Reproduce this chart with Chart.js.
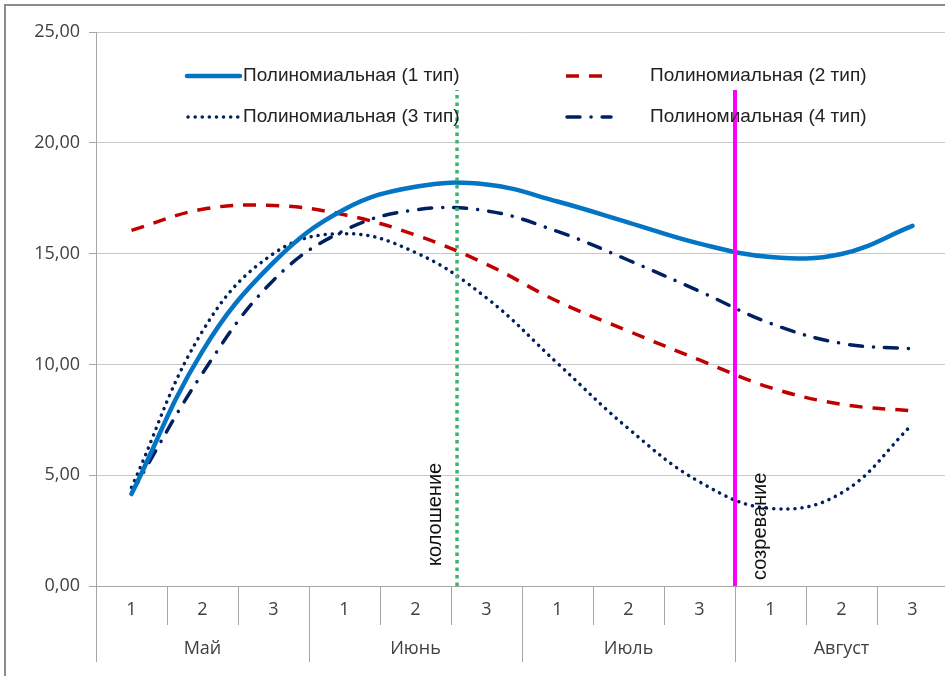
<!DOCTYPE html>
<html>
<head>
<meta charset="utf-8">
<script src="https://cdn.jsdelivr.net/npm/chart.js@4.4.1/dist/chart.umd.min.js"></script>
<style>
html, body { margin: 0; padding: 0; background: #fff; overflow: hidden; }
#wrap { position: absolute; left: 0; top: 0; width: 960px; height: 676px; }
</style>
</head>
<body>
<div id="wrap"><canvas id="chart"></canvas></div>
<script>
// декады и месяцы
var decades = ["1", "2", "3", "1", "2", "3", "1", "2", "3", "1", "2", "3"];
var months = ["Май", "Июнь", "Июль", "Август"];

// значения по декадам
var type1 = [4.15, 10.6, 14.6, 17.0, 18.02, 18.12, 17.35, 16.4, 15.45, 14.85, 14.98, 16.25];
var type2 = [16.05, 17.0, 17.17, 16.75, 15.84, 14.52, 12.85, 11.5, 10.2, 8.95, 8.2, 7.9];
var type3 = [4.45, 11.5, 15.0, 15.9, 15.05, 13.0, 10.05, 7.1, 4.7, 3.5, 4.2, 7.3];
var type4 = [4.2, 9.6, 13.8, 16.05, 16.97, 16.93, 16.0, 14.7, 13.3, 11.85, 10.95, 10.7];
var seriesNames = ["Полиномиальная (1 тип)", "Полиномиальная (2 тип)", "Полиномиальная (3 тип)", "Полиномиальная (4 тип)"];

// фазы развития
var phaseNames = ["колошение", "созревание"];
var phasePos = [4.585, 8.5];
var phaseTop = 22.38;

var yMin = 0, yMax = 25, yStep = 5;

function pts(arr) {
  return arr.map(function (v, i) { return { x: i, y: v }; });
}
function vline(x) {
  return [{ x: x, y: 0 }, { x: x, y: phaseTop }];
}

var axisColor = "#a6a6a6";
var textColor = "#404040";

/*
рамка, подписи оси X, легенда и подписи фаз
*/
var decor = {
  id: "decor",
  beforeDraw: function (chart) {
    var c = chart.ctx;
    c.save();
    c.fillStyle = "#fff";
    c.fillRect(0, 0, chart.width, chart.height);
    c.fillStyle = "#8c8c8c";
    c.fillRect(4, 4, chart.width, 2);
    c.fillRect(4, 4, 2, chart.height);
    c.restore();
  },
  afterDraw: function (chart) {
    var c = chart.ctx, xs = chart.scales.x, area = chart.chartArea;
    c.save();

    // ось X и разделители
    c.strokeStyle = axisColor;
    c.lineWidth = 1;
    c.beginPath();
    c.moveTo(area.left, area.bottom + 0.5);
    c.lineTo(area.right, area.bottom + 0.5);
    for (var i = 0; i <= decades.length; i++) {
      var px = Math.round(xs.getPixelForValue(i - 0.5)) + 0.5;
      c.moveTo(px, area.bottom);
      c.lineTo(px, area.bottom + (i % 3 === 0 ? 76 : 39));
    }
    c.stroke();

    c.fillStyle = textColor;
    c.font = "18px 'Open Sans'";
    c.textAlign = "center";
    c.textBaseline = "middle";
    decades.forEach(function (d, i) {
      c.fillText(d, xs.getPixelForValue(i), area.bottom + 24);
    });
    months.forEach(function (m, i) {
      c.fillText(m, xs.getPixelForValue(i * 3 + 1), area.bottom + 63);
    });

    // легенда
    var slots = [
      { x: 187, y: 76, w: 53, tx: 243 },
      { x: 566, y: 76, w: 38, tx: 650 },
      { x: 188, y: 117, w: 50, tx: 243 },
      { x: 567, y: 117, w: 44, tx: 650 }
    ];
    var k = 0;
    chart.data.datasets.forEach(function (ds) {
      if (!ds.isCurve) return;
      var s = slots[k++];
      c.save();
      c.strokeStyle = ds.borderColor;
      c.lineWidth = ds.borderWidth;
      c.lineCap = ds.borderCapStyle || "butt";
      c.setLineDash(ds.borderDash || []);
      c.beginPath();
      c.moveTo(s.x, s.y);
      c.lineTo(s.x + s.w, s.y);
      c.stroke();
      c.restore();
      c.fillStyle = "#222";
      c.font = "19px 'Liberation Sans'";
      c.textAlign = "left";
      c.textBaseline = "middle";
      c.fillText(ds.label, s.tx, s.y);
    });

    // подписи фаз
    c.font = "20px 'Liberation Sans'";
    c.fillStyle = "#111";
    c.textBaseline = "middle";
    c.textAlign = "left";
    var offs = [{ dx: -22, bottom: 566 }, { dx: 25, bottom: 580 }];
    phaseNames.forEach(function (name, i) {
      var px = xs.getPixelForValue(phasePos[i]);
      c.save();
      c.translate(px + offs[i].dx, offs[i].bottom);
      c.rotate(-Math.PI / 2);
      c.fillText(name, 0, 0);
      c.restore();
    });

    c.restore();
  }
};

var config = {
  type: "line",
  data: {
    datasets: [
      {
        label: phaseNames[0], data: vline(phasePos[0]),
        borderColor: "#3cb371", borderWidth: 3.5, borderDash: [3.5, 4],
        pointRadius: 0, tension: 0
      },
      {
        label: phaseNames[1], data: vline(phasePos[1]),
        borderColor: "#ff00ff", borderWidth: 4,
        pointRadius: 0, tension: 0
      },
      {
        label: seriesNames[0], data: pts(type1), isCurve: true,
        borderColor: "#0474c4", borderWidth: 4.5, borderCapStyle: "round",
        pointRadius: 0, tension: 0.4
      },
      {
        label: seriesNames[1], data: pts(type2), isCurve: true,
        borderColor: "#c00000", borderWidth: 3.5, borderDash: [13, 10],
        pointRadius: 0, tension: 0.4
      },
      {
        label: seriesNames[2], data: pts(type3), isCurve: true,
        borderColor: "#002060", borderWidth: 3.5, borderDash: [0.1, 7], borderCapStyle: "round",
        pointRadius: 0, tension: 0.4
      },
      {
        label: seriesNames[3], data: pts(type4), isCurve: true,
        borderColor: "#002060", borderWidth: 3.5, borderDash: [13, 11, 0.1, 11], borderCapStyle: "round",
        pointRadius: 0, tension: 0.4
      }
    ]
  },
  options: {
    responsive: true,
    maintainAspectRatio: false,
    animation: false,
    layout: { padding: { left: 5, right: 12, top: 32, bottom: 0 } },
    plugins: {
      legend: { display: false },
      tooltip: { enabled: false }
    },
    scales: {
      x: {
        type: "linear",
        min: -0.5,
        max: decades.length - 0.5,
        ticks: { display: false },
        grid: { display: false },
        border: { display: false },
        afterFit: function (axis) { axis.height = 90; }
      },
      y: {
        min: yMin,
        max: yMax,
        ticks: {
          stepSize: yStep,
          padding: 9,
          color: textColor,
          font: { family: "'Open Sans'", size: 18 },
          callback: function (v) { return v.toFixed(2).replace(".", ","); }
        },
        grid: { color: "#c8c8c8", tickLength: 7, tickColor: axisColor },
        border: { display: true, color: axisColor },
        afterFit: function (axis) { axis.width = 91; }
      }
    }
  },
  plugins: [decor]
};

var ctx = document.getElementById("chart").getContext("2d");
window.myLine = new Chart(ctx, config);
</script>
</body>
</html>
